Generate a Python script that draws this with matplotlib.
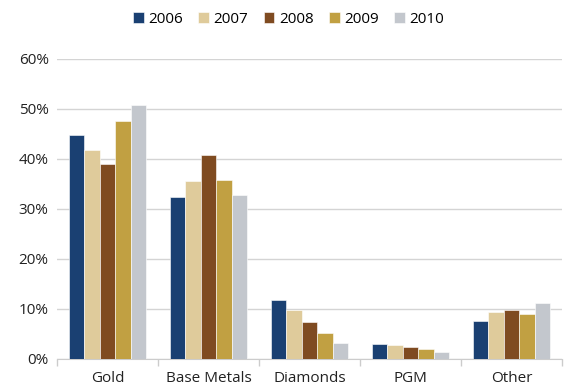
import numpy as np
import matplotlib.pyplot as plt

plt.rcParams['font.family'] = ['Open Sans', 'DejaVu Sans']

categories = ['Gold', 'Base Metals', 'Diamonds', 'PGM', 'Other']
years = ['2006', '2007', '2008', '2009', '2010']
share = {
    '2006': [44.8, 32.4, 11.9, 3.0, 7.7],
    '2007': [41.9, 35.7, 9.9, 2.8, 9.5],
    '2008': [39.1, 40.8, 7.5, 2.5, 9.9],
    '2009': [47.7, 35.8, 5.3, 2.0, 9.0],
    '2010': [50.8, 32.8, 3.3, 1.5, 11.3],
}
colors = ['#1a4072', '#dfcb9b', '#7f4b21', '#c1a042', '#c3c7cd']

fig = plt.figure(figsize=(5.66, 3.88), dpi=100)
ax = fig.add_axes([57 / 566, 29 / 388, 505 / 566, 300 / 388])

x = np.arange(len(categories))
w = 0.153
for i, yr in enumerate(years):
    ax.bar(x + (i - 2) * w, share[yr], width=w, color=colors[i],
           edgecolor='white', linewidth=0.4, label=yr, zorder=3)

ax.set_xlim(-0.5, len(categories) - 0.5)
ax.set_ylim(0, 60)
ax.set_yticks(np.arange(0, 61, 10))
ax.set_yticklabels([f'{v}%' for v in range(0, 61, 10)], fontsize=11, color='#222222')
ax.yaxis.grid(True, color='#d4d4d4', linewidth=1)
ax.tick_params(axis='y', length=0, pad=6)

ax.set_xticks(x)
ax.set_xticklabels(categories, fontsize=11, color='#222222')
ax.set_xticks(np.arange(-0.5, len(categories)), minor=True)
ax.tick_params(axis='x', which='major', length=0, pad=9)
ax.tick_params(axis='x', which='minor', length=5, color='#cccccc', width=1)

for s in ['top', 'right', 'left']:
    ax.spines[s].set_visible(False)
ax.spines['bottom'].set_color('#cccccc')
ax.set_axisbelow(True)

fig.legend(loc='upper center', bbox_to_anchor=(0.51, 1.005), ncol=5, frameon=False,
           fontsize=11, handlelength=0.7, handleheight=0.7, handletextpad=0.3,
           columnspacing=1.0)

fig.savefig('out.png', dpi=100)
